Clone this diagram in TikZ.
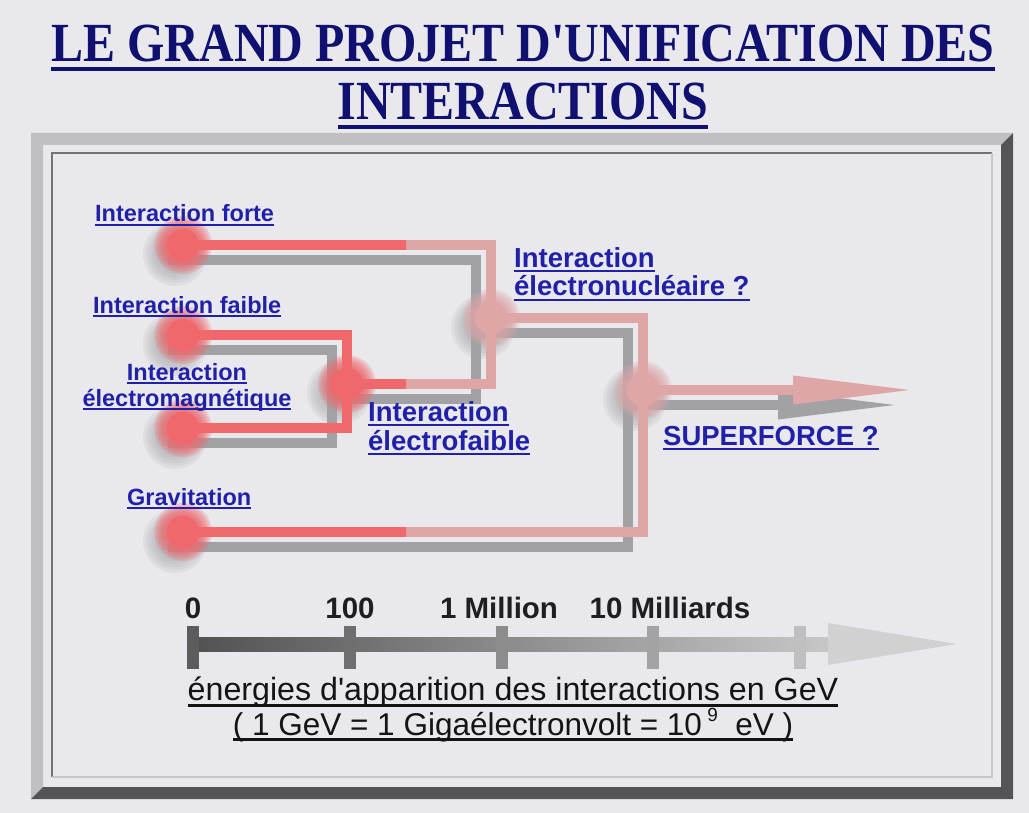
\documentclass[tikz,border=0pt]{standalone}
\usepackage{fontspec}
\usepackage{graphicx}
\setmainfont{Liberation Sans}
\newfontfamily\titrefont{Liberation Serif}
\usetikzlibrary{arrows.meta,backgrounds}

\definecolor{fond}{RGB}{233,233,237}
\definecolor{marine}{RGB}{16,16,112}
\definecolor{bleulien}{RGB}{32,32,168}
\definecolor{rougevif}{RGB}{240,104,108}
\definecolor{rosepale}{RGB}{222,166,166}
\definecolor{ombre}{RGB}{162,162,166}
\definecolor{cadreclair}{RGB}{192,192,195}
\definecolor{cadrefonce}{RGB}{84,84,88}

\pgfdeclarelayer{lignes}
\pgfsetlayers{background,lignes,main}

% thick underline, scaled with the font
\newcommand\souligne[1]{\setbox0\hbox{#1}\rlap{\rule[-0.18em]{\wd0}{0.075em}}\box0}

\begin{document}
\begin{tikzpicture}[x=1pt,y=-1pt,
    lien/.style={line width=10pt},
    fleche/.style={-{Triangle[length=124pt,width=26pt]}},
    point/.style={circle,inner sep=0pt,minimum size=32pt},
    etiq/.style={font=\fontsize{23.5}{26}\selectfont\bfseries,text=bleulien,inner sep=0pt,align=left},
    etiqg/.style={font=\fontsize{27.5}{28.5}\selectfont\bfseries,text=bleulien,inner sep=0pt,align=left},
    grad/.style={font=\fontsize{29.5}{30}\selectfont\bfseries,text=black!88,inner sep=0pt,anchor=base},
    legende/.style={font=\fontsize{32.2}{30}\selectfont,text=black!92,inner sep=0pt,align=center,anchor=base}
  ]
  \useasboundingbox (0,0) rectangle (1029,813);

  \begin{scope}[on background layer]
    \fill[fond] (0,0) rectangle (1029,813);
    % raised frame
    \fill[cadreclair] (31,133) -- (1013,133) -- (1001,145) -- (43,145) -- (43,787) -- (31,799) -- cycle;
    \fill[cadrefonce] (1013,133) -- (1013,799) -- (31,799) -- (43,787) -- (1001,787) -- (1001,145) -- cycle;
    \draw[black!55,line width=1.5pt] (52,777) -- (52,153) -- (992,153);
    \draw[black!22,line width=2pt] (992,153) -- (992,777) -- (52,777);
  \end{scope}

  \node[font=\titrefont\bfseries\fontsize{48}{58}\selectfont,text=marine,align=center,anchor=base,inner sep=0pt] (titre) at (523,120)
    {\souligne{\scalebox{1}[1.15]{LE GRAND PROJET D\textquotesingle UNIFICATION DES}}\\
     \souligne{\scalebox{1}[1.15]{INTERACTIONS}}};

  \node[point,fill=rougevif] (forte)  at (183,245) {};
  \node[point,fill=rougevif] (faible) at (183,335) {};
  \node[point,fill=rougevif] (em)     at (183,428) {};
  \node[point,fill=rougevif] (grav)   at (183,532) {};
  \node[point,fill=rougevif] (ef)     at (347,384) {};
  \node[point,fill=rosepale] (en)     at (491,318) {};
  \node[point,fill=rosepale] (sf)     at (643,390) {};
  \coordinate (fin) at (917,390);

  % soft rim round each dot
  \foreach \n/\c in {forte/rougevif,faible/rougevif,em/rougevif,grav/rougevif,ef/rougevif,en/rosepale,sf/rosepale}
    \foreach \r in {17,19,...,29}
      \fill[\c,fill opacity=.22] (\n.center) circle (\r);

  \begin{pgfonlayer}{lignes}
    \foreach \n in {forte,faible,em,grav,ef,en,sf}
      \foreach \r in {14,17,...,32}
        \fill[ombre,fill opacity=.14] ([shift={(-8,9)}]\n.center) circle (\r);
    \foreach \a/\b in {forte/en,faible/ef,em/ef,ef/en,en/sf,grav/sf}
      \draw[lien,ombre] ([shift={(-15,15)}]\a.center) -| ([shift={(-15,15)}]\b.center);
    \draw[lien,ombre,fleche] ([shift={(-15,15)}]sf.center) -- ([shift={(-15,15)}]fin);
    \foreach \a/\b in {forte/en,faible/ef,em/ef,ef/en,en/sf,grav/sf}
      \draw[lien,rosepale] (\a.center) -| (\b.center);
    \draw[lien,rosepale,fleche] (sf.center) -- (fin);
    \begin{scope}
      \clip (0,0) rectangle (406,813);
      \foreach \a/\b in {forte/en,faible/ef,em/ef,ef/en,grav/sf}
        \draw[lien,rougevif] (\a.center) -| (\b.center);
    \end{scope}
  \end{pgfonlayer}

  \node[etiq,anchor=base west] (lforte)  at (95,222)  {\souligne{Interaction forte}};
  \node[etiq,anchor=base west] (lfaible) at (93,313)  {\souligne{Interaction faible}};
  \node[etiq,align=center,anchor=base] (lem) at (187,406) {\souligne{Interaction}\\\souligne{électromagnétique}};
  \node[etiq,anchor=base west] (lgrav)   at (127,505) {\souligne{Gravitation}};
  \node[etiqg,anchor=base west] (len)    at (514,296) {\souligne{Interaction}\\\souligne{électronucléaire ?}};
  \node[etiqg,anchor=base west] (lef)    at (368,450) {\souligne{Interaction}\\\souligne{électrofaible}};
  \node[etiqg,anchor=base west] (lsf)    at (663,445) {\souligne{SUPERFORCE ?}};

  % energy axis
  \coordinate (zero) at (193,644);
  \coordinate (bout) at (957,644);
  \shade[left color=black!68,right color=black!22] (193,637) rectangle (830,651);
  \fill[black!18] (828,623) -- (bout) -- (828,665) -- cycle;
  \foreach \x/\t in {193/64,350/57,502/45,653/36,800/25}
    \fill[black!\t] (\x-6,626) rectangle (\x+6,669);
  \node[grad] (g0)    at (193,618) {0};
  \node[grad] (g100)  at (350,618) {100};
  \node[grad] (g1m)   at (499,618) {1 Million};
  \node[grad] (g10md) at (670,618) {10 Milliards};

  \node[legende] (legende) at (513,735)
    {\souligne{énergies d\textquotesingle apparition des interactions en GeV}\\
     {\fontsize{31.5}{30}\selectfont\souligne{( 1 GeV = 1 Gigaélectronvolt = 10\,\raisebox{0.42em}{\fontsize{19}{19}\selectfont 9}\ \ eV )}}};
\end{tikzpicture}
\end{document}
